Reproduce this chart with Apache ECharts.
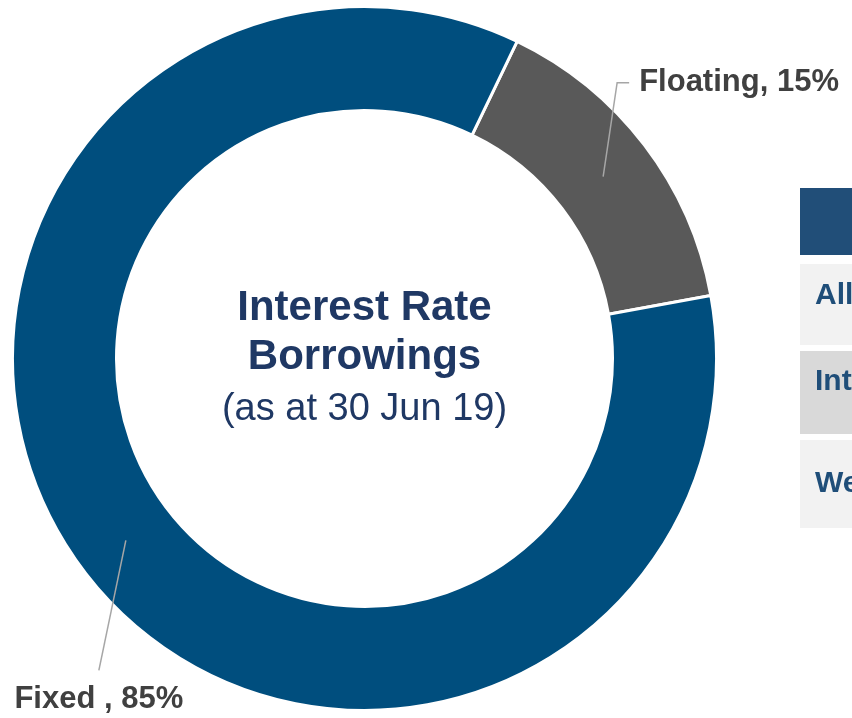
<!DOCTYPE html>
<html>
<head>
<meta charset="utf-8">
<script src="https://cdn.jsdelivr.net/npm/echarts@6/dist/echarts.min.js"></script>
<style>
html,body{margin:0;padding:0;background:#fff;}
#chart{width:852px;height:718px;}
</style>
</head>
<body>
<div id="chart"></div>
<script>
// ---- data ----
const categories = ['Floating', 'Fixed '];
const shares = [15, 85];
const sliceColors = ['#595959', '#004e7e'];
const centerLines = ['Interest Rate', 'Borrowings', '(as at 30 Jun 19)'];
const tableRows = ['All', 'Int', 'We'];

// ---- layout ----
const cx = 364.5, cy = 358.5, rIn = 248, rOut = 352;
const startAngle = 64.3; // echarts degrees (90 = top)

const chart = echarts.init(document.getElementById('chart'));
const total = shares.reduce((a, b) => a + b, 0);

// label leader offsets relative to the mid-ring point
const leader = [
  {elbow: [14, -94], tail: [12, 0], text: [22, 0], align: 'left', vAlign: 'middle'},
  {elbow: [-27, 130], tail: null, text: [0, 29], align: 'center', vAlign: 'middle'}
];

function midPoint(idx) {
  let acc = 0;
  for (let i = 0; i < idx; i++) acc += shares[i];
  const midFrac = (acc + shares[idx] / 2) / total;
  const ang = (startAngle - midFrac * 360) * Math.PI / 180;
  const r = (rIn + rOut) / 2;
  return [cx + r * Math.cos(ang), cy - r * Math.sin(ang)];
}

const gfx = [];
const lineY = [-50, -1, 51];
centerLines.forEach((t, i) => {
  gfx.push({
    type: 'text', x: cx, y: cy + lineY[i],
    style: {
      text: t, align: 'center', verticalAlign: 'middle',
      fill: '#1f3864',
      font: (i < 2 ? 'bold 42px' : '38px') + ' "Liberation Sans", Arial, sans-serif'
    }
  });
});

// partial table on the right
gfx.push({type: 'rect', shape: {x: 800, y: 188, width: 60, height: 67}, style: {fill: '#214e78'}});
const rowBoxes = [[264, 81, '#f2f2f2', 296], [351, 83, '#d9d9d9', 382], [440, 88, '#f2f2f2', 484]];
tableRows.forEach((t, i) => {
  const b = rowBoxes[i];
  gfx.push({type: 'rect', shape: {x: 800, y: b[0], width: 60, height: b[1]}, style: {fill: b[2]}});
  gfx.push({type: 'text', x: 815, y: b[3], style: {
    text: t, align: 'left', verticalAlign: 'middle', fill: '#1f4e79',
    font: 'bold 30px "Liberation Sans", Arial, sans-serif'
  }});
});

const pieData = categories.map((c, i) => ({name: c, value: shares[i], itemStyle: {color: sliceColors[i]}}));

chart.setOption({
  animation: false,
  backgroundColor: '#ffffff',
  graphic: gfx,
  series: [{
    type: 'pie',
    z: 2,
    center: [cx, cy],
    radius: [rIn, rOut],
    startAngle: startAngle,
    clockwise: true,
    silent: true,
    itemStyle: {borderColor: '#ffffff', borderWidth: 3},
    label: {show: false},
    labelLine: {show: false},
    data: pieData
  }, {
    type: 'pie',
    z: 5,
    center: [cx, cy],
    radius: [rIn, rOut],
    startAngle: startAngle,
    clockwise: true,
    silent: true,
    avoidLabelOverlap: false,
    itemStyle: {color: 'rgba(0,0,0,0)', borderWidth: 0},
    label: {
      show: true,
      position: 'outside',
      formatter: '{b}, {c}%',
      color: '#404040',
      fontSize: 31,
      fontWeight: 'bold',
      fontFamily: '"Liberation Sans", Arial, sans-serif'
    },
    labelLine: {show: true, lineStyle: {color: '#a6a6a6', width: 1.5}},
    labelLayout: function (params) {
      const i = params.dataIndex;
      const L = leader[i];
      const p0 = midPoint(i);
      const p1 = [p0[0] + L.elbow[0], p0[1] + L.elbow[1]];
      const pts = [p0, p1];
      if (L.tail) pts.push([p1[0] + L.tail[0], p1[1] + L.tail[1]]);
      else pts.push(p1);
      return {
        x: p1[0] + L.text[0], y: p1[1] + L.text[1],
        align: L.align, verticalAlign: L.vAlign,
        labelLinePoints: pts
      };
    },
    data: categories.map((c, i) => ({name: c, value: shares[i]}))
  }]
});
</script>
</body>
</html>
